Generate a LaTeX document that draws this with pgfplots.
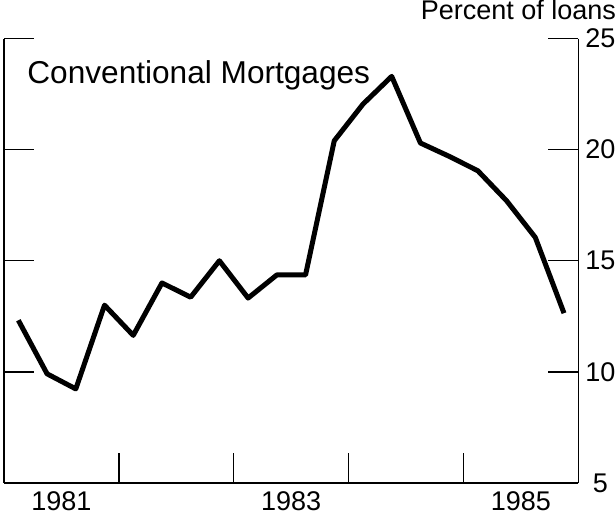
\documentclass[border=0pt]{standalone}
\usepackage{fontspec}
\setmainfont{Liberation Sans}
\usepackage{pgfplots}
\pgfplotsset{compat=1.18}

\begin{document}
\begin{tikzpicture}
\begin{axis}[
    scale only axis,
    width=287pt, height=222pt,
    xmin=1981, xmax=1986,
    ymin=5, ymax=25,
    axis x line*=bottom,
    axis y line*=box,
    axis line style={line width=0.8pt},
    xtick={1981.5,1983.5,1985.5},
    xticklabels={1981,1983,1985},
    minor xtick={1982,1983,1984,1985},
    ytick={5,10,15,20,25},
    major tick length=15pt,
    minor tick length=15pt,
    every tick/.style={line width=0.7pt, black},
    x tick style={draw=none},
    minor x tick style={draw=black, line width=0.7pt},
    tick pos=both,
    yticklabel pos=right,
    /pgf/number format/assume math mode=true,
    tick label style={font=\fontsize{13.5}{15}\selectfont},
    xticklabel style={anchor=base, inner sep=0pt, yshift=-14pt},
    yticklabel style={anchor=center, inner sep=0pt, xshift=11pt},
    clip=false,
]
\addplot[black, line width=2.5pt, line join=round] coordinates {
(1981.125,12.32) (1981.375,9.91) (1981.625,9.23) (1981.875,13.0)
(1982.125,11.64) (1982.375,14.0) (1982.625,13.36) (1982.875,15.0)
(1983.125,13.32) (1983.375,14.36) (1983.625,14.36) (1983.875,20.4)
(1984.125,22.05) (1984.375,23.3) (1984.625,20.3) (1984.875,19.7)
(1985.125,19.05) (1985.375,17.7) (1985.625,16.05) (1985.875,12.64)
};
\node[anchor=base west, font=\fontsize{15.8}{19}\selectfont, inner sep=0pt]
  at (rel axis cs:0.04,0.9) {Conventional Mortgages};
\node[anchor=base east, font=\fontsize{13.5}{15}\selectfont, inner sep=0pt]
  at ([xshift=19pt,yshift=9.5pt]rel axis cs:1,1) {Percent of loans};
\path ([xshift=-2pt,yshift=-16.5pt]rel axis cs:0,0);
\end{axis}
\end{tikzpicture}
\end{document}
